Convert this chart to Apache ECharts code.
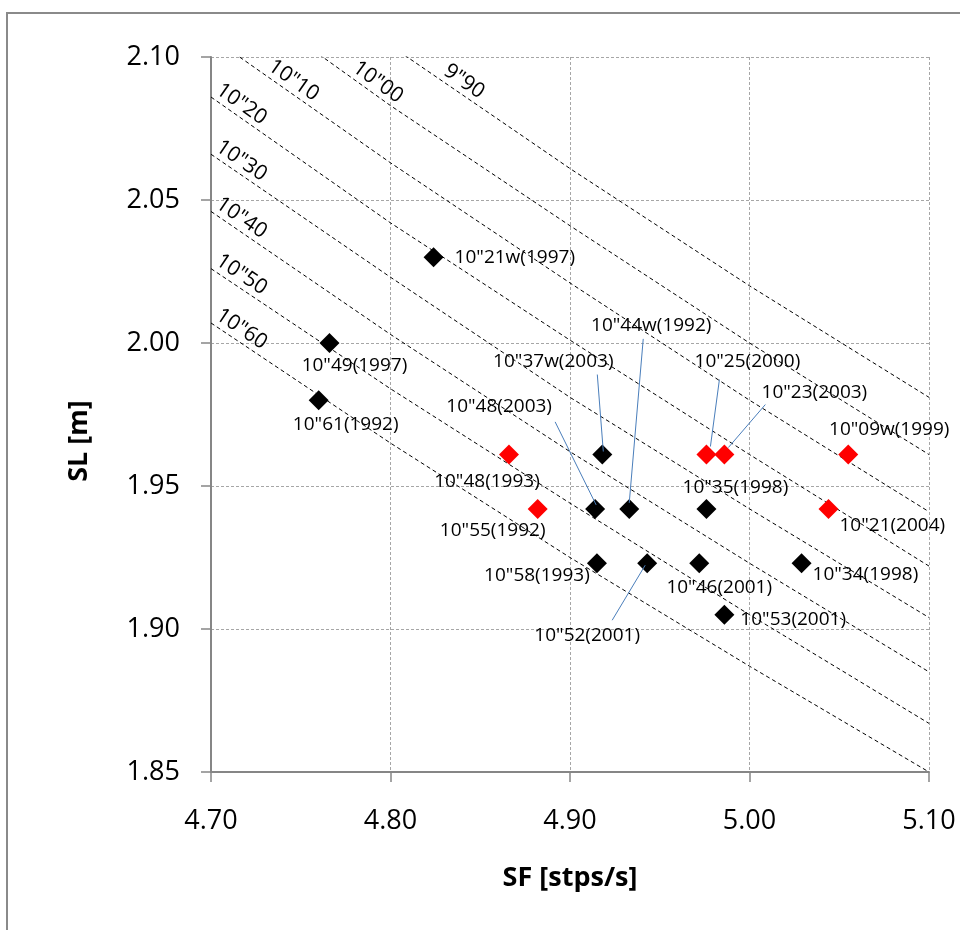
<!DOCTYPE html>
<html>
<head>
<meta charset="utf-8">
<title>SF - SL</title>
<script src="https://cdn.jsdelivr.net/npm/echarts@6/dist/echarts.min.js"></script>
<style>
    html, body { margin: 0; padding: 0; background: #fff; }
    #chart { width: 960px; height: 930px; }
</style>
</head>
<body>
<div id="chart"></div>
<script>
    // step frequency [stps/s] / step length [m] of each race
    var blackNames = ['10"21w(1997)', '10"49(1997)', '10"61(1992)', '10"37w(2003)', '10"48(2003)', '10"44w(1992)',
        '10"35(1998)', '10"58(1993)', '10"52(2001)', '10"46(2001)', '10"34(1998)', '10"53(2001)'];
    var blackSF = [4.824, 4.766, 4.760, 4.918, 4.914, 4.933, 4.976, 4.915, 4.943, 4.972, 5.029, 4.986];
    var blackSL = [2.030, 2.000, 1.980, 1.961, 1.942, 1.942, 1.942, 1.923, 1.923, 1.923, 1.923, 1.905];

    var redNames = ['10"48(1993)', '10"55(1992)', '10"25(2000)', '10"23(2003)', '10"09w(1999)', '10"21(2004)'];
    var redSF = [4.866, 4.882, 4.976, 4.986, 5.055, 5.044];
    var redSL = [1.961, 1.942, 1.961, 1.961, 1.961, 1.942];

    // iso time lines (100 m time), SL read at SF = 4.70 ... 5.10
    var isoNames = ['9"90', '10"00', '10"10', '10"20', '10"30', '10"40', '10"50', '10"60'];
    var isoSF = [4.70, 4.80, 4.90, 5.00, 5.10];
    var isoSL = [
        [2.149, 2.104, 2.061, 2.020, 1.981],
        [2.128, 2.083, 2.041, 2.000, 1.961],
        [2.107, 2.063, 2.021, 1.980, 1.941],
        [2.086, 2.042, 2.001, 1.961, 1.922],
        [2.066, 2.023, 1.981, 1.942, 1.904],
        [2.046, 2.003, 1.962, 1.923, 1.885],
        [2.026, 1.984, 1.944, 1.905, 1.867],
        [2.007, 1.965, 1.925, 1.887, 1.850]
    ];
    // where the line names sit (SF)
    var isoLabelSF = [4.841, 4.793, 4.746, 4.717, 4.717, 4.717, 4.717, 4.717];

    var xTicks = {min: 4.70, max: 5.10, step: 0.10};
    var yTicks = {min: 1.85, max: 2.10, step: 0.05};

    // label placement (pixels from the marker)
    var blackLabelPos = [
        {pos: 'right', dist: 11, off: [0, 0]},
        {pos: 'inside', off: [25, 23]},
        {pos: 'inside', off: [27, 24]},
        {pos: 'inside', off: [-49, -93], lead: [[1, -3], [-5, -80]]},
        {pos: 'inside', off: [-96, -102], lead: [[1, -4], [-40, -87]]},
        {pos: 'inside', off: [22, -183], lead: [[0, -6], [14, -170]]},
        {pos: 'inside', off: [29, -21]},
        {pos: 'inside', off: [-60, 12]},
        {pos: 'inside', off: [-60, 72], lead: [[-2, 2], [-35, 57]]},
        {pos: 'inside', off: [20, 24]},
        {pos: 'right', dist: 1, off: [0, 11]},
        {pos: 'right', dist: 6, off: [0, 5]}
    ];
    var redLabelPos = [
        {pos: 'inside', off: [-22, 27]},
        {pos: 'inside', off: [-45, 22]},
        {pos: 'inside', off: [41, -93], lead: [[4, -8], [13, -75]]},
        {pos: 'inside', off: [90, -62], lead: [[4, -7], [41, -50]]},
        {pos: 'inside', off: [41, -25]},
        {pos: 'right', dist: 1, off: [0, 17]}
    ];

    var FONT = '"Open Sans", "Noto Sans", sans-serif';
    var chart = echarts.init(document.getElementById('chart'));

    function points(sf, sl, names, pos) {
        return sf.map(function (x, i) {
            return {
                name: names[i],
                value: [x, sl[i]],
                label: {position: pos[i].pos, distance: pos[i].dist || 0, offset: pos[i].off}
            };
        });
    }

    var series = isoNames.map(function (n, i) {
        return {
            name: n,
            type: 'line',
            data: isoSF.map(function (x, k) { return [x, isoSL[i][k]]; }),
            symbol: 'none',
            clip: true,
            silent: true,
            z: 1,
            lineStyle: {color: '#000', width: 1, type: [4, 3]}
        };
    });

    function scatter(name, color, data) {
        return {
            name: name,
            type: 'scatter',
            symbol: 'diamond',
            symbolSize: 20,
            z: 3,
            itemStyle: {color: color, opacity: 1},
            label: {
                show: true,
                formatter: '{b}',
                color: '#000',
                opacity: 1,
                textBorderWidth: 0,
                fontSize: 19,
                fontFamily: FONT
            },
            data: data
        };
    }
    series.push(scatter('black', '#000000', points(blackSF, blackSL, blackNames, blackLabelPos)));
    series.push(scatter('red', '#ff0000', points(redSF, redSL, redNames, redLabelPos)));

    var axisCommon = {
        type: 'value',
        axisLine: {show: true, onZero: false, lineStyle: {color: '#868686', width: 2}},
        axisTick: {show: true, length: 10, lineStyle: {color: '#868686', width: 1.5}},
        splitLine: {show: true, lineStyle: {color: '#a6a6a6', width: 1, type: [3, 2]}},
        axisLabel: {
            color: '#000',
            fontSize: 27,
            fontFamily: FONT,
            showMinLabel: true,
            showMaxLabel: true,
            formatter: function (v) { return v.toFixed(2); }
        }
    };

    var option = {
        animation: false,
        backgroundColor: '#fff',
        grid: {left: 211, right: 31, top: 57, bottom: 158, containLabel: false},
        xAxis: echarts.util.merge({
            min: xTicks.min, max: xTicks.max, interval: xTicks.step,
            axisLabel: {margin: 36}
        }, axisCommon, false),
        yAxis: echarts.util.merge({
            min: yTicks.min, max: yTicks.max, interval: yTicks.step,
            axisLabel: {margin: 31}
        }, axisCommon, false),
        series: series
    };
    chart.setOption(option);

    // sl on iso line i at a given sf (within the read points)
    function slOn(i, sf) {
        for (var k = 0; k < isoSF.length - 1; k++) {
            if (sf <= isoSF[k + 1]) {
                var t = (sf - isoSF[k]) / (isoSF[k + 1] - isoSF[k]);
                return {sl: isoSL[i][k] + t * (isoSL[i][k + 1] - isoSL[i][k]), k: k};
            }
        }
        return {sl: isoSL[i][isoSF.length - 1], k: isoSF.length - 2};
    }

    var graphic = [{
        type: 'rect',
        z: 0,
        shape: {x: 7, y: 13, width: 1000, height: 1000},
        style: {fill: null, stroke: '#8a8a8a', lineWidth: 2}
    }, {
        type: 'text',
        x: 570, y: 878,
        z: 10,
        style: {text: 'SF [stps/s]', font: 'bold 27px ' + FONT, fill: '#000', textAlign: 'center', textVerticalAlign: 'middle'}
    }, {
        type: 'text',
        x: 79, y: 441,
        rotation: Math.PI / 2,
        z: 10,
        style: {text: 'SL [m]', font: 'bold 27px ' + FONT, fill: '#000', textAlign: 'center', textVerticalAlign: 'middle'}
    }];

    isoNames.forEach(function (n, i) {
        var r = slOn(i, isoLabelSF[i]);
        var p = chart.convertToPixel({gridIndex: 0}, [isoLabelSF[i], r.sl]);
        var a = chart.convertToPixel({gridIndex: 0}, [isoSF[r.k], isoSL[i][r.k]]);
        var b = chart.convertToPixel({gridIndex: 0}, [isoSF[r.k + 1], isoSL[i][r.k + 1]]);
        var ang = Math.atan2(b[1] - a[1], b[0] - a[0]);
        graphic.push({
            type: 'text',
            x: p[0], y: p[1] - 14.5,
            rotation: -ang,
            z: 10,
            style: {text: n, font: '21px ' + FONT, fill: '#000', textAlign: 'center', textVerticalAlign: 'middle'}
        });
    });

    // leader lines for the moved labels
    function leaders(sf, sl, pos) {
        sf.forEach(function (x, i) {
            if (!pos[i].lead) return;
            var c = chart.convertToPixel({gridIndex: 0}, [x, sl[i]]);
            var s = pos[i].lead[0], e = pos[i].lead[1];
            graphic.push({
                type: 'line',
                z: 10,
                shape: {x1: c[0] + s[0], y1: c[1] + s[1], x2: c[0] + e[0], y2: c[1] + e[1]},
                style: {stroke: '#4a7ebb', lineWidth: 1}
            });
        });
    }
    leaders(blackSF, blackSL, blackLabelPos);
    leaders(redSF, redSL, redLabelPos);

    chart.setOption({graphic: graphic});
</script>
</body>
</html>
